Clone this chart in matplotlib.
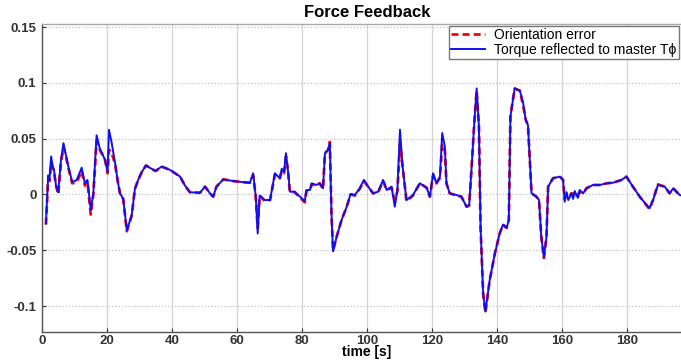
import matplotlib
matplotlib.use('Agg')
import matplotlib.pyplot as plt

plt.rcParams['font.family'] = ['Liberation Sans', 'DejaVu Sans']

time_s = [1.2, 1.9, 2.3, 2.8, 3.3, 3.7, 4.3, 5.0, 5.8, 6.6, 7.3, 8.1, 9.3, 10.7, 12.2, 13.2, 14.0, 15.0, 15.8,
          16.8, 17.8, 19.4, 20.2, 20.6, 21.4, 22.5, 23.3, 24.0, 25.0, 26.1, 27.6, 28.6, 29.6, 30.7, 32.0, 33.7,
          35.0, 36.8, 39.4, 42.5, 44.0, 45.5, 48.6, 50.2, 51.7, 52.7, 53.7, 55.8, 58.9, 61.9, 64.0, 65.0, 65.8,
          66.4, 67.0, 68.6, 70.2, 71.7, 73.2, 73.8, 74.5, 75.1, 75.8, 76.3, 77.8, 79.4, 80.9, 81.4, 82.5, 83.0,
          84.5, 85.5, 86.5, 87.1, 88.1, 88.6, 89.1, 89.6, 90.7, 92.2, 93.8, 95.0, 96.3, 97.8, 99.1, 100.4, 101.9,
          103.5, 105.0, 106.1, 107.6, 108.6, 109.4, 110.2, 111.0, 112.2, 114.2, 116.3, 118.4, 119.4, 120.4,
          121.4, 122.5, 123.2, 124.0, 124.5, 125.5, 127.6, 129.1, 130.7, 131.5, 132.2, 133.0, 133.8, 134.5,
          135.0, 135.8, 136.5, 137.8, 139.4, 140.9, 141.9, 143.0, 143.7, 144.2, 145.5, 147.1, 148.1, 148.9,
          149.6, 150.7, 152.2, 153.0, 153.7, 154.5, 155.3, 155.8, 157.3, 159.4, 160.4, 160.9, 161.5, 162.0,
          162.5, 163.0, 163.5, 164.0, 164.5, 165.0, 165.5, 166.6, 167.6, 169.6, 171.7, 173.8, 175.8, 178.4,
          179.9, 181.9, 184.0, 187.0, 188.1, 189.6, 191.7, 193.2, 194.3, 196.3, 199.5]

orientation_err = [-0.027, 0.014, 0.012, 0.028, 0.024, 0.020, 0.008, 0.000, 0.028, 0.042, 0.035, 0.024, 0.010,
                   0.011, 0.021, 0.008, 0.011, -0.018, 0.000, 0.048, 0.040, 0.031, 0.019, 0.040, 0.038, 0.027,
                   0.012, 0.001, -0.004, -0.033, -0.019, 0.005, 0.013, 0.020, 0.026, 0.023, 0.021, 0.025, 0.022,
                   0.016, 0.008, 0.002, 0.0015, 0.007, 0.001, -0.002, 0.007, 0.0135, 0.012, 0.011, 0.0105, 0.017,
                   -0.002, -0.030, -0.001, -0.006, -0.005, 0.018, 0.0145, 0.021, 0.019, 0.034, 0.019, 0.002,
                   0.002, -0.003, -0.007, 0.003, 0.004, 0.009, 0.008, 0.010, 0.005, 0.037, 0.040, 0.047, -0.017,
                   -0.050, -0.038, -0.023, -0.011, 0.000, -0.001, 0.005, 0.012, 0.007, 0.001, 0.002, 0.012, 0.004,
                   0.006, -0.005, 0.003, 0.045, 0.025, -0.006, -0.001, 0.010, 0.006, -0.002, 0.017, 0.010, 0.015,
                   0.045, 0.040, 0.010, 0.001, -0.001, -0.002, -0.011, -0.010, 0.022, 0.061, 0.093, 0.061,
                   -0.029, -0.089, -0.106, -0.077, -0.053, -0.035, -0.027, -0.030, -0.023, 0.070, 0.095, 0.093,
                   0.080, 0.067, 0.062, 0.001, -0.002, -0.005, -0.038, -0.057, -0.038, 0.007, 0.0145, 0.016,
                   0.013, -0.004, 0.000, -0.002, -0.001, 0.001, 0.000, 0.002, -0.001, 0.000, 0.002, 0.001,
                   0.0055, 0.0085, 0.0085, 0.010, 0.0105, 0.013, 0.016, 0.007, -0.002, -0.013, -0.005, 0.009,
                   0.007, 0.001, 0.0055, -0.0005, -0.003]

torque_master = [-0.026, 0.017, 0.013, 0.034, 0.025, 0.022, 0.008, 0.002, 0.030, 0.046, 0.036, 0.025, 0.011,
                 0.013, 0.024, 0.010, 0.013, -0.014, 0.001, 0.053, 0.041, 0.031, 0.020, 0.058, 0.047, 0.028,
                 0.012, 0.001, -0.004, -0.032, -0.019, 0.005, 0.013, 0.020, 0.026, 0.023, 0.021, 0.025, 0.022,
                 0.016, 0.008, 0.002, 0.0015, 0.007, 0.001, -0.002, 0.007, 0.0135, 0.012, 0.011, 0.0105, 0.019,
                 -0.002, -0.035, -0.001, -0.005, -0.005, 0.019, 0.0145, 0.023, 0.020, 0.037, 0.019, 0.0025,
                 0.0025, -0.002, -0.006, 0.004, 0.004, 0.010, 0.0085, 0.010, 0.0055, 0.037, 0.040, 0.046,
                 -0.017, -0.051, -0.038, -0.023, -0.011, 0.0004, -0.0005, 0.0055, 0.013, 0.007, 0.001, 0.0025,
                 0.013, 0.004, 0.007, -0.011, 0.004, 0.058, 0.025, -0.005, -0.0005, 0.010, 0.006, -0.002,
                 0.019, 0.010, 0.016, 0.055, 0.043, 0.010, 0.001, -0.0005, -0.002, -0.011, -0.0095, 0.022,
                 0.061, 0.095, 0.061, -0.029, -0.089, -0.105, -0.077, -0.053, -0.035, -0.027, -0.030, -0.023,
                 0.070, 0.095, 0.093, 0.082, 0.067, 0.062, 0.001, -0.002, -0.005, -0.038, -0.056, -0.038,
                 0.007, 0.0145, 0.016, 0.013, -0.0065, 0.002, -0.005, -0.002, 0.001, -0.004, 0.003, -0.0005,
                 -0.003, 0.004, 0.001, 0.0055, 0.0085, 0.0085, 0.010, 0.0105, 0.013, 0.016, 0.007, -0.002,
                 -0.0125, -0.005, 0.0085, 0.007, 0.001, 0.0055, -0.0005, -0.003]

x_ticks = [0, 20, 40, 60, 80, 100, 120, 140, 160, 180]
y_ticks = [-0.1, -0.05, 0, 0.05, 0.1, 0.15]
y_tick_labels = ['-0.1', '-0.05', '0', '0.05', '0.1', '0.15']

fig = plt.figure(figsize=(6.81, 3.61), dpi=100)
ax = fig.add_axes([0.0617, 0.0803, 0.954, 0.853])

ax.plot(time_s, orientation_err, color='red', linestyle='--', linewidth=2.0, dashes=(2.5, 1.5),
        label='Orientation error')
ax.plot(time_s, torque_master, color='#1010ee', linewidth=1.4,
        label='Torque reflected to master T\u03d5')

ax.set_xlim(0, 200)
ax.set_ylim(-0.1233, 0.1527)
ax.set_xticks(x_ticks)
ax.set_yticks(y_ticks)
ax.set_yticklabels(y_tick_labels)
ax.tick_params(direction='in', length=3, labelsize=9.5, colors='#333333', pad=4)
ax.tick_params(axis='x', pad=2)
for lbl in ax.get_xticklabels() + ax.get_yticklabels():
    lbl.set_fontweight('bold')

ax.xaxis.grid(True, color='#d4d4d4', linestyle='-', linewidth=0.9)
ax.yaxis.grid(True, color='#c0c0c0', linestyle=':', linewidth=0.9)
ax.set_axisbelow(True)
for sp in ax.spines.values():
    sp.set_color('#555555')
    sp.set_linewidth(1.0)
ax.spines['top'].set_color('#aaaaaa')

ax.set_title('Force Feedback', fontsize=12, fontweight='bold', pad=5)
ax.set_xlabel('time [s]', fontsize=10, fontweight='bold', labelpad=-1)

ax.legend(loc='upper right', bbox_to_anchor=(0.997, 0.928), bbox_transform=fig.transFigure,
          fontsize=10, frameon=True, fancybox=False, edgecolor='#777777', framealpha=1,
          borderpad=0.15, labelspacing=0.05, handlelength=2.4, handletextpad=0.7, borderaxespad=0)

fig.savefig('out.png', dpi=100)
